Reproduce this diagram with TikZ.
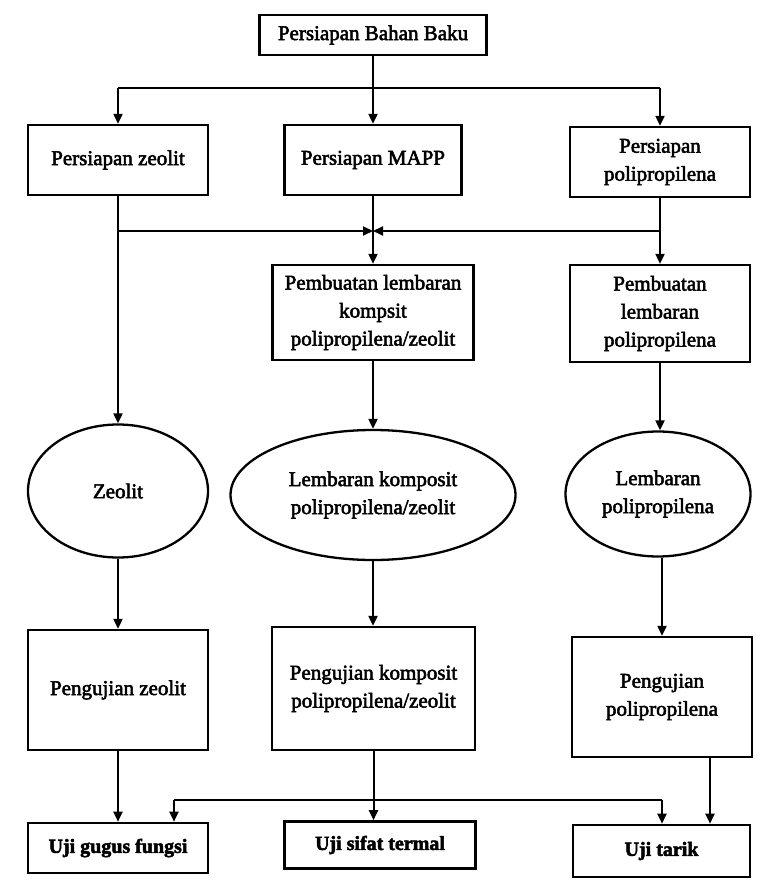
\documentclass[tikz,border=0pt]{standalone}
\usepackage{fontspec}
\setmainfont{Liberation Serif}
\newfontfamily\scanfont{Liberation Serif}[FakeBold=2.5]
\usetikzlibrary{arrows.meta,shapes.geometric,calc}
\begin{document}
\begin{tikzpicture}[x=1pt,y=-1pt,
  line width=2pt,
  arr/.style={-{Triangle[length=10pt,width=9pt]}},
  box/.style={draw, rectangle, align=center, inner sep=2pt, line width=2.3pt,
    font=\scanfont\fontsize{21}{28}\selectfont},
  oval/.style={draw, ellipse, align=center, inner sep=0pt, line width=2.3pt,
    font=\scanfont\fontsize{21}{28}\selectfont},
  final/.style={box, line width=2.6pt, font=\scanfont\bfseries\fontsize{20}{24}\selectfont}
]
\useasboundingbox[fill=white] (0,0) rectangle (767,885);

% preparation stage
\node[box, minimum width=227pt, minimum height=40pt] (top) at (373,35) {Persiapan Bahan Baku};
\node[box, minimum width=180pt, minimum height=70pt] (pz) at (118,160) {Persiapan zeolit};
\node[box, minimum width=177pt, minimum height=70pt] (pm) at (373,160) {Persiapan MAPP};
\node[box, minimum width=180pt, minimum height=70pt] (pp) at (660,162) {Persiapan\\polipropilena};

% sheet fabrication
\node[box, minimum width=201pt, minimum height=95pt] (pk) at (373,312.5) {Pembuatan lembaran\\kompsit\\polipropilena/zeolit};
\node[box, minimum width=180pt, minimum height=97pt] (pl) at (660,313.5) {Pembuatan\\lembaran\\polipropilena};

% products
\node[oval, minimum width=180pt, minimum height=133pt] (ez) at (118,491) {Zeolit};
\node[oval, minimum width=285pt, minimum height=130pt] (ek) at (373,495) {Lembaran komposit\\polipropilena/zeolit};
\node[oval, minimum width=185pt, minimum height=125pt] (ep) at (658,494) {Lembaran\\polipropilena};

% testing
\node[box, minimum width=180pt, minimum height=120pt] (uz) at (118,690) {Pengujian zeolit};
\node[box, minimum width=203pt, minimum height=123pt] (uk) at (373.5,688.5) {Pengujian komposit\\polipropilena/zeolit};
\node[box, minimum width=180pt, minimum height=120pt] (up) at (662,697) {Pengujian\\polipropilena};

% characterisation
\node[final, minimum width=180pt, minimum height=50pt] (bg) at (118,848) {Uji gugus fungsi};
\node[final, minimum width=191pt, minimum height=47pt] (bs) at (380,845) {Uji sifat termal};
\node[final, minimum width=177pt, minimum height=52pt] (bt) at (661.5,851) {Uji tarik};

% split from raw material preparation
\coordinate (split) at (373,88);
\draw (top.south) -- (split);
\draw (pz.north |- split) -- (pp.north |- split);
\draw[arr] (pz.north |- split) -- (pz.north);
\draw[arr] (split) -- (pm.north);
\draw[arr] (pp.north |- split) -- (pp.north);

% merge into composite sheet fabrication
\coordinate (join) at (373,231);
\draw[arr] (pz.south |- join) -- (join);
\draw[arr] (pp.south |- join) -- (join);
\draw[arr] (pm.south) -- (pk.north);
\draw[arr] (pp.south) -- (pl.north);
\draw[arr] (pz.south) -- (ez.north);

% sheets to products
\draw[arr] (pk.south) -- (ek.north);
\draw[arr] (pl.south) -- (ep.north -| pl.south);

% products to testing
\draw[arr] (ez.south) -- (uz.north);
\draw[arr] (ek.south) -- (ek.south |- uk.north);
\draw[arr] (ep.south -| up.north) -- (up.north);

% testing to characterisation
\coordinate (busL) at (174,800);
\coordinate (busR) at (662,800);
\coordinate (upout) at ($(up.south)+(48,0)$);
\draw[arr] (uz.south) -- (bg.north);
\draw[arr] (uk.south) -- (uk.south |- bs.north);
\draw (busL) -- (busR);
\draw[arr] (busL) -- (busL |- bg.north);
\draw[arr] (busR) -- (busR |- bt.north);
\draw[arr] (upout) -- (upout |- bt.north);
\end{tikzpicture}
\end{document}
